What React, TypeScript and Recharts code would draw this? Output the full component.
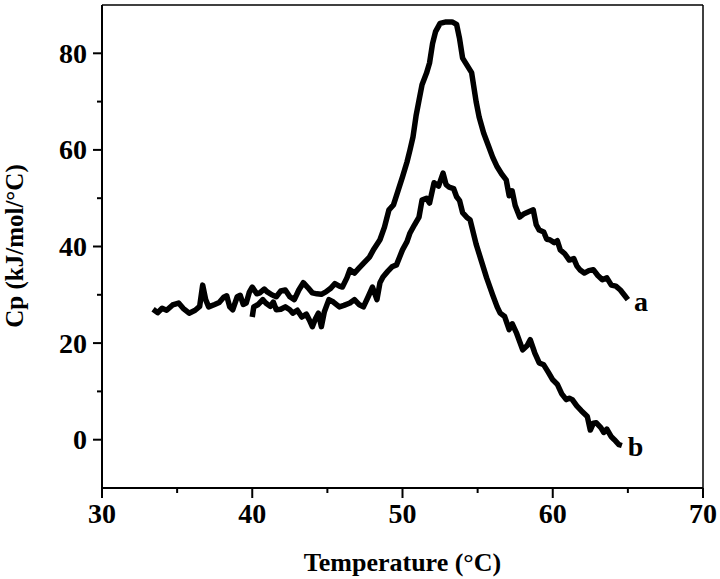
import React from 'react';
import { LineChart, Line, XAxis, YAxis, ReferenceLine, Label } from 'recharts';

// curve a: temperature (°C) and Cp (kJ/mol/°C)
const aTemp = [
  33.4, 33.7, 34.0, 34.3, 34.7, 35.1, 35.4, 35.8, 36.2, 36.5, 36.7, 36.9, 37.1, 37.5, 37.8, 38.1,
  38.3, 38.5, 38.7, 39.0, 39.2, 39.4, 39.6, 39.8, 40.0, 40.3, 40.5, 40.8, 41.0, 41.3, 41.6, 41.9,
  42.2, 42.5, 42.8, 43.1, 43.4, 43.7, 44.0, 44.3, 44.6, 44.9, 45.2, 45.5, 45.8, 46.0, 46.3, 46.5,
  46.8, 47.1, 47.4, 47.8, 48.1, 48.5, 48.8, 49.1, 49.4, 49.7, 50.0, 50.3, 50.5, 50.7, 50.9, 51.1,
  51.3, 51.6, 51.8, 52.0, 52.2, 52.5, 52.9, 53.3, 53.6, 53.8, 54.0, 54.3, 54.6, 54.9, 55.1, 55.4,
  55.7, 56.0, 56.3, 56.6, 56.9, 57.1, 57.3, 57.5, 57.8, 58.1, 58.4, 58.7, 58.9, 59.1, 59.4, 59.6,
  59.8, 60.1, 60.3, 60.5, 60.8, 61.1, 61.4, 61.6, 61.8, 62.1, 62.4, 62.7, 63.0, 63.3, 63.6, 63.9,
  64.2, 64.5, 64.8, 65.0,
];
const aCp = [
  27.0, 26.3, 27.2, 26.8, 27.9, 28.3, 27.2, 26.2, 26.8, 27.6, 32.0, 29.0, 27.5, 28.0, 28.4, 29.5,
  29.8, 27.5, 26.9, 29.6, 29.9, 28.0, 28.3, 30.5, 31.6, 30.2, 30.4, 31.2, 30.6, 30.0, 29.6, 30.8,
  31.0, 29.6, 29.0, 31.0, 32.5, 31.5, 30.4, 30.2, 30.1, 30.6, 31.3, 32.3, 31.8, 31.6, 33.5, 35.2,
  34.5, 35.5, 36.5, 37.8, 39.5, 41.4, 44.0, 47.6, 48.6, 51.5, 54.4, 57.5, 60.0, 62.7, 67.0, 70.3,
  73.5, 75.9, 78.0, 82.0, 84.5, 86.2, 86.5, 86.5, 86.0, 83.0, 79.0, 77.5, 76.0, 70.0, 66.8, 63.5,
  61.0, 58.5, 56.5, 55.0, 53.8, 50.5, 51.5, 48.5, 46.1, 46.8, 47.2, 47.6, 44.5, 43.4, 43.0, 41.5,
  41.4, 40.8, 41.2, 39.3, 38.5, 37.2, 37.5, 36.0, 35.2, 34.5, 35.0, 35.2, 34.0, 33.1, 33.5, 32.0,
  31.8, 31.0, 29.8, 29.0,
];

// curve b
const bTemp = [
  40.0, 40.1, 40.4, 40.7, 40.9, 41.2, 41.4, 41.6, 41.9, 42.2, 42.5, 42.7, 43.0, 43.3, 43.6, 43.8,
  44.0, 44.2, 44.4, 44.6, 44.8, 45.1, 45.4, 45.8, 46.1, 46.5, 46.8, 47.1, 47.4, 47.7, 48.0, 48.3,
  48.5, 48.7, 49.0, 49.3, 49.6, 50.0, 50.3, 50.5, 50.8, 51.1, 51.3, 51.6, 51.8, 52.1, 52.4, 52.7,
  52.9, 53.1, 53.4, 53.6, 53.8, 54.0, 54.3, 54.5, 54.9, 55.2, 55.6, 56.0, 56.3, 56.5, 56.8, 57.1,
  57.3, 57.6, 58.0, 58.3, 58.5, 58.8, 59.1, 59.4, 59.7, 60.0, 60.3, 60.6, 60.9, 61.1, 61.3, 61.6,
  61.9, 62.3, 62.5, 62.7, 62.9, 63.2, 63.4, 63.6, 63.9, 64.1, 64.4, 64.6,
];
const bCp = [
  25.4, 27.5, 28.0, 29.0, 28.3, 27.6, 28.5, 26.9, 27.0, 27.5, 26.9, 26.2, 26.8, 25.4, 26.0, 24.8,
  23.4, 25.0, 26.2, 23.4, 26.5, 29.0, 28.5, 27.5, 27.8, 28.3, 29.0, 28.0, 27.5, 29.5, 31.6, 29.0,
  32.5, 33.7, 34.8, 35.8, 36.2, 39.3, 41.0, 42.8, 44.5, 46.1, 49.6, 50.0, 49.0, 53.2, 52.5, 55.2,
  52.8, 52.3, 52.0, 50.3, 49.5, 47.0, 46.0, 45.5, 40.5, 37.5, 33.5, 30.0, 27.5, 26.2, 25.5, 22.8,
  24.0, 22.0, 18.6, 19.5, 20.7, 18.0, 15.9, 15.5, 14.0, 12.4, 11.5, 9.5, 8.3, 8.6, 8.3, 7.0,
  6.0, 4.8, 2.0, 3.4, 3.5, 2.5, 1.5, 2.2, 0.6, 0.0, -1.0, -1.2,
];

const xTicks = [30, 35, 40, 45, 50, 55, 60, 65, 70];
const yTicks = [0, 10, 20, 30, 40, 50, 60, 70, 80];

const dataA = aTemp.map((t, i) => ({ t, cp: aCp[i] }));
const dataB = bTemp.map((t, i) => ({ t, cp: bCp[i] }));

const FONT = '"Liberation Serif", "Times New Roman", serif';

const XTick = (props: any) => {
  const { x, y, payload } = props;
  const major = payload.value % 10 === 0;
  return (
    <g>
      <line x1={x} y1={y} x2={x} y2={y + (major ? 10 : 5)} stroke="#000" strokeWidth={2} />
      {major && (
        <text x={x} y={y + 35} textAnchor="middle" fontFamily={FONT} fontWeight="bold" fontSize={28} fill="#000">
          {payload.value}
        </text>
      )}
    </g>
  );
};

const YTick = (props: any) => {
  const { x, y, payload } = props;
  const major = payload.value % 20 === 0;
  return (
    <g>
      <line x1={x} y1={y} x2={x - (major ? 9 : 5)} y2={y} stroke="#000" strokeWidth={2} />
      {major && (
        <text x={x - 15} y={y + 9.5} textAnchor="end" fontFamily={FONT} fontWeight="bold" fontSize={28} fill="#000">
          {payload.value}
        </text>
      )}
    </g>
  );
};

const endLabel = (name: string, count: number) => (props: any) => {
  const { x, y, index } = props;
  if (index !== count - 1) return null;
  return (
    <text x={x + 6} y={y + 11} fontFamily={FONT} fontWeight="bold" fontSize={28} fill="#000">
      {name}
    </text>
  );
};

export default function App() {
  return (
    <div style={{ position: 'absolute', left: 0, top: 0, background: '#fff' }}>
      <LineChart width={720} height={579} margin={{ top: 5, right: 17, left: 0, bottom: 0 }}>
        <XAxis
          type="number"
          dataKey="t"
          domain={[30, 70]}
          ticks={xTicks}
          tick={<XTick />}
          tickSize={0}
          tickMargin={0}
          tickLine={false}
          axisLine={{ stroke: '#000', strokeWidth: 2 }}
          height={91}
          allowDataOverflow
        >
          <Label
            value="Temperature (°C)"
            position="insideBottom"
            offset={8}
            style={{ fontFamily: FONT, fontWeight: 'bold', fontSize: 26, fill: '#000' }}
          />
        </XAxis>
        <YAxis
          type="number"
          domain={[-10, 90]}
          ticks={yTicks}
          tick={<YTick />}
          tickSize={0}
          tickMargin={0}
          tickLine={false}
          axisLine={{ stroke: '#000', strokeWidth: 2 }}
          width={102}
          allowDataOverflow
        >
          <Label
            content={() => (
              <text
                x={14}
                y={246}
                transform="rotate(-90 14 246)"
                textAnchor="middle"
                dominantBaseline="central"
                fontFamily={FONT}
                fontWeight="bold"
                fontSize={25}
                fill="#000"
              >
                Cp (kJ/mol/°C)
              </text>
            )}
          />
        </YAxis>
        <ReferenceLine y={90} stroke="#000" strokeWidth={1.5} />
        <ReferenceLine x={70} stroke="#000" strokeWidth={1.5} />
        <Line
          data={dataA}
          dataKey="cp"
          type="linear"
          stroke="#000"
          strokeWidth={5.5}
          strokeLinejoin="round"
          dot={false}
          isAnimationActive={false}
          label={endLabel('a', dataA.length)}
        />
        <Line
          data={dataB}
          dataKey="cp"
          type="linear"
          stroke="#000"
          strokeWidth={5.5}
          strokeLinejoin="round"
          dot={false}
          isAnimationActive={false}
          label={endLabel('b', dataB.length)}
        />
      </LineChart>
    </div>
  );
}
